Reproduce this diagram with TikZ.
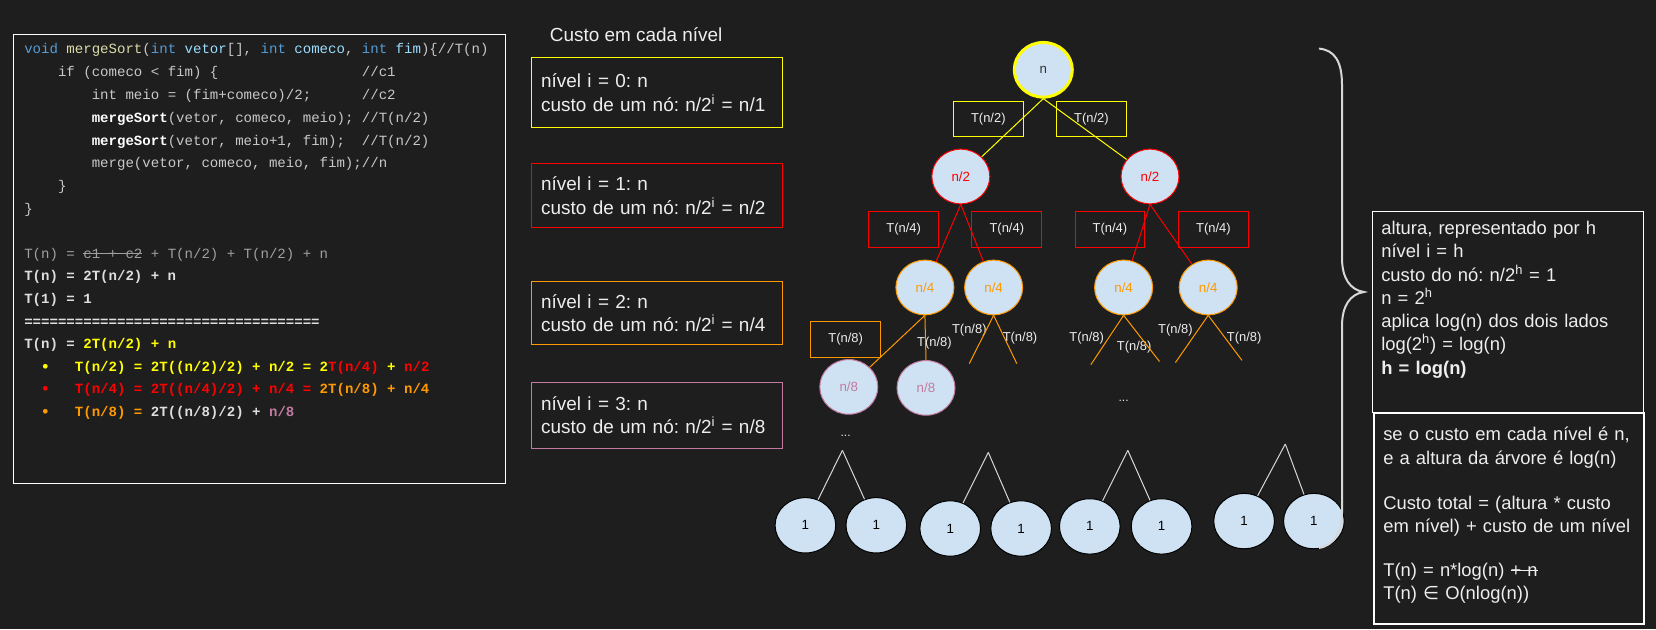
\documentclass[tikz,border=0pt]{standalone}
\usepackage{fontspec}
\setmainfont{Liberation Sans}
\setmonofont{Liberation Mono}
\newfontfamily\symfont{DejaVu Sans}
\usetikzlibrary{shapes.geometric}

\definecolor{bg}{RGB}{30,30,30}
\definecolor{nodefill}{RGB}{207,226,243}
\definecolor{lvlyellow}{RGB}{255,255,0}
\definecolor{lvlred}{RGB}{255,0,0}
\definecolor{lvlorange}{RGB}{255,153,0}
\definecolor{lvlpink}{RGB}{194,123,160}
\definecolor{txt}{RGB}{238,238,238}
\definecolor{codegray}{RGB}{200,200,200}
\definecolor{codedim}{RGB}{160,160,160}
\definecolor{codelight}{RGB}{222,222,222}
\definecolor{kwblue}{RGB}{86,156,214}
\definecolor{fnyellow}{RGB}{220,220,170}
\definecolor{parblue}{RGB}{156,220,254}
\definecolor{linegray}{RGB}{215,215,215}

\newcommand{\codesp}[1]{\hspace*{#1\fontcharwd\font`0}}
\newlength{\strikelen}
\newcommand{\strike}[1]{\settowidth{\strikelen}{#1}\rlap{\rule[0.28em]{\strikelen}{0.08em}}#1}
\frenchspacing

\begin{document}
\begin{tikzpicture}[x=0.75pt,y=-0.75pt,
  codeline/.style={anchor=west, inner sep=0pt, text=codegray,
    font=\ttfamily\fontsize{10.55}{12}\selectfont, text height=7.5pt, text depth=2.5pt},
  boldline/.style={codeline, text=codelight,
    font=\ttfamily\bfseries\fontsize{10.55}{12}\selectfont},
  dot/.style={inner sep=0pt, text=#1, font=\fontsize{13}{14}\selectfont},
  lvlbox/.style={draw=#1, line width=0.75pt, minimum width=187.9pt, minimum height=47.6pt,
    text width=173.7pt, inner xsep=7.1pt, align=left, text=txt,
    font=\fontsize{14.2}{17.45}\selectfont},
  treenode/.style={ellipse, draw=#1, fill=nodefill, text=#1, line width=0.75pt,
    minimum width=43.5pt, minimum height=41pt, inner sep=0pt, font=\fontsize{10}{12}\selectfont},
  leaf/.style={treenode=black, minimum width=45.5pt, minimum height=41.5pt},
  tbox/.style={draw=#1, line width=0.75pt, minimum width=52.3pt, minimum height=26.6pt,
    inner sep=0pt, text=txt, font=\fontsize{9.7}{11}\selectfont},
  tlabel/.style={inner sep=0pt, text=txt, font=\fontsize{9.7}{11}\selectfont},
  tedge/.style={draw=#1, line width=0.75pt},
  sidetext/.style={anchor=north west, inner sep=0pt, text width=196pt, align=left, text=txt,
    font=\fontsize{13.8}{17.45}\selectfont}
]

\useasboundingbox (0,0) rectangle (1656,629);
\fill[bg] (0,0) rectangle (1656,629);

% codigo
\node[draw=white, line width=0.75pt, minimum width=368.6pt, minimum height=336.1pt, inner sep=0pt]
  (codebox) at (259.5,259) {};

\node[codeline] (c1) at (24,50.5) {\textcolor{kwblue}{void} \textcolor{fnyellow}{mergeSort}(\textcolor{kwblue}{int} \textcolor{parblue}{vetor}[], \textcolor{kwblue}{int} \textcolor{parblue}{comeco}, \textcolor{kwblue}{int} \textcolor{parblue}{fim})\{//T(n)};
\node[codeline] (c2) at (24,73.3) {\codesp{4}if (comeco < fim) \{\codesp{17}//c1};
\node[codeline] (c3) at (24,96.1) {\codesp{8}int meio = (fim+comeco)/2;\codesp{6}//c2};
\node[codeline] (c4) at (24,118.9) {\codesp{8}{\bfseries\color{white}mergeSort}(vetor, comeco, meio); //T(n/2)};
\node[codeline] (c5) at (24,141.7) {\codesp{8}{\bfseries\color{white}mergeSort}(vetor, meio+1, fim);\codesp{2}//T(n/2)};
\node[codeline] (c6) at (24,164.5) {\codesp{8}merge(vetor, comeco, meio, fim);//n};
\node[codeline] (c7) at (24,187.3) {\codesp{4}\}};
\node[codeline] (c8) at (24,210.1) {\}};

\node[codeline, text=codedim] (d1) at (24,254.7) {T(n) = \strike{c1 + c2} + T(n/2) + T(n/2) + n};
\node[boldline] (d2) at (24,277.4) {T(n) = 2T(n/2) + n};
\node[boldline] (d3) at (24,300.0) {T(1) = 1};
\node[boldline] (d4) at (24,322.7) {===================================};
\node[boldline] (d5) at (24,345.3) {T(n) = \textcolor{lvlyellow}{2T(n/2) + n}};
\node[boldline, text=lvlyellow] (d6) at (24,368.0) {\codesp{6}T(n/2) = 2T((n/2)/2) + n/2 = 2\textcolor{lvlred}{T(n/4)} + \textcolor{lvlred}{n/2}};
\node[boldline, text=lvlred] (d7) at (24,390.6) {\codesp{6}T(n/4) = 2T((n/4)/2) + n/4 = \textcolor{lvlorange}{2T(n/8) + n/4}};
\node[boldline, text=lvlorange] (d8) at (24,413.3) {\codesp{6}T(n/8) = \textcolor{codelight}{2T((n/8)/2) +} \textcolor{lvlpink}{n/8}};
\node[dot=lvlyellow] (b1) at (45.5,368.0) {\textbullet};
\node[dot=lvlred] (b2) at (45.5,390.6) {\textbullet};
\node[dot=lvlorange] (b3) at (45.5,413.3) {\textbullet};

% custo por nivel
\node[anchor=west, inner sep=0pt, text=txt, font=\fontsize{14.2}{17}\selectfont]
  (titulo) at (549.6,34.9) {Custo em cada nível};
\node[lvlbox=lvlyellow, minimum height=53.1pt] (lvl0) at (657,92.5) {nível i = 0: n\\custo de um nó: n/2\textsuperscript{i} = n/1};
\node[lvlbox=lvlred] (lvl1) at (657,195.5) {nível i = 1: n\\custo de um nó: n/2\textsuperscript{i} = n/2};
\node[lvlbox=lvlorange] (lvl2) at (657,312.9) {nível i = 2: n\\custo de um nó: n/2\textsuperscript{i} = n/4};
\node[lvlbox=lvlpink, minimum height=49.2pt] (lvl3) at (657,415.4) {nível i = 3: n\\custo de um nó: n/2\textsuperscript{i} = n/8};

% arvore
\node[treenode=lvlyellow, line width=2.25pt, text=black!80] (root) at (1043.3,69.8) {n};
\node[tbox=lvlyellow] (t2a) at (988.3,118.9) {T(n/2)};
\node[tbox=lvlyellow] (t2b) at (1091.4,118.9) {T(n/2)};
\node[treenode=lvlred] (l1a) at (960.8,176.5) {n/2};
\node[treenode=lvlred] (l1b) at (1150,176.5) {n/2};

\node[tbox=lvlred, minimum height=27pt] (t4a) at (903.7,229.4) {T(n/4)};
\node[tbox=lvlred, minimum height=27pt] (t4b) at (1006.8,229.4) {T(n/4)};
\node[tbox=lvlred, minimum height=27pt] (t4c) at (1109.9,229.4) {T(n/4)};
\node[tbox=lvlred, minimum height=27pt] (t4d) at (1213.4,229.4) {T(n/4)};
\node[treenode=lvlorange] (l2a) at (924.9,287.5) {n/4};
\node[treenode=lvlorange] (l2b) at (993.6,287.5) {n/4};
\node[treenode=lvlorange] (l2c) at (1123.6,287.5) {n/4};
\node[treenode=lvlorange] (l2d) at (1208.2,287.5) {n/4};

\node[tbox=lvlorange, minimum height=27pt] (t8a) at (845.6,339.3) {T(n/8)};
\node[tlabel] (t8b) at (934.4,343.5) {T(n/8)};
\node[tlabel] (t8c) at (969.3,329.8) {T(n/8)};
\node[tlabel] (t8d) at (1020,338.2) {T(n/8)};
\node[tlabel] (t8e) at (1086.6,338.2) {T(n/8)};
\node[tlabel] (t8f) at (1134.2,346.7) {T(n/8)};
\node[tlabel] (t8g) at (1175.4,329.8) {T(n/8)};
\node[tlabel] (t8h) at (1244.1,338.2) {T(n/8)};
\node[treenode=lvlpink] (l3a) at (848.8,386.9) {n/8};
\node[treenode=lvlpink] (l3b) at (926,387.9) {n/8};

\node[dot=txt, font=\fontsize{9}{10}\selectfont] (dots1) at (845.6,435.5) {...};
\node[dot=txt, font=\fontsize{9}{10}\selectfont] (dots2) at (1123.6,400.6) {...};

\coordinate (e1) at (969.3,363.6);
\coordinate (e2) at (1016.8,363.6);
\coordinate (e3) at (1090.8,364.7);
\coordinate (e4) at (1159.5,361.5);
\coordinate (e5) at (1175.4,362.6);
\coordinate (e6) at (1242,360.4);

\coordinate (p1) at (842.4,450.3);
\coordinate (p2) at (988.3,452.4);
\coordinate (p3) at (1127.8,450.3);
\coordinate (p4) at (1285.3,444);
\node[leaf, text=black] (f1) at (805.4,525.3) {1};
\node[leaf, text=black] (f2) at (876.3,525.3) {1};
\node[leaf, text=black] (f3) at (950.2,528.5) {1};
\node[leaf, text=black] (f4) at (1021.1,528.5) {1};
\node[leaf, text=black] (f5) at (1089.8,526.4) {1};
\node[leaf, text=black] (f6) at (1161.6,526.4) {1};
\node[leaf, text=black] (f7) at (1244.1,521.1) {1};
\node[leaf, text=black] (f8) at (1313.9,521.1) {1};

\draw[tedge=lvlyellow] (root.south) -- (l1a);
\draw[tedge=lvlyellow] (root.south) -- (l1b);
\draw[tedge=lvlred] (l1a.south) -- (l2a);
\draw[tedge=lvlred] (l1a.south) -- (l2b);
\draw[tedge=lvlred] (l1b.south) -- (l2c);
\draw[tedge=lvlred] (l1b.south) -- (l2d);
\draw[tedge=lvlorange] (l2a.south) -- (l3a);
\draw[tedge=lvlorange] (l2a.south) -- (l3b.north);
\draw[tedge=lvlorange] (l2b.south) -- (e1);
\draw[tedge=lvlorange] (l2b.south) -- (e2);
\draw[tedge=lvlorange] (l2c.south) -- (e3);
\draw[tedge=lvlorange] (l2c.south) -- (e4);
\draw[tedge=lvlorange] (l2d.south) -- (e5);
\draw[tedge=lvlorange] (l2d.south) -- (e6);
\draw[tedge=linegray] (p1) -- (f1);
\draw[tedge=linegray] (p1) -- (f2);
\draw[tedge=linegray] (p2) -- (f3);
\draw[tedge=linegray] (p2) -- (f4);
\draw[tedge=linegray] (p3) -- (f5);
\draw[tedge=linegray] (p3) -- (f6);
\draw[tedge=linegray] (p4) -- (f7);
\draw[tedge=linegray] (p4) -- (f8);

% chave e conclusao
\draw[linegray, line width=1.5pt] (1319,48.6) .. controls (1335,50) and (1342,62) .. (1342,85)
  -- (1342,258) .. controls (1342,278) and (1350,290) .. (1364,292)
  .. controls (1350,294) and (1342,306) .. (1342,326)
  -- (1342,512) .. controls (1342,532) and (1335,545) .. (1319,548);

\node[draw=white, line width=0.75pt, minimum width=203.7pt, minimum height=150.6pt, inner sep=0pt]
  (altbox) at (1507.8,311.8) {};
\node[sidetext] (alttext) at (1381,221) {altura, representado por h\\nível i = h\\custo do nó: n/2\textsuperscript{h} = 1\\n = 2\textsuperscript{h}\\aplica log(n) dos dois lados\\log(2\textsuperscript{h}) = log(n)\\\textbf{h = log(n)}};

\node[draw=white, line width=1.5pt, minimum width=201.8pt, minimum height=157.7pt, inner sep=0pt]
  (totalbox) at (1509,518.5) {};
\node[sidetext] (totaltext) at (1383,427) {se o custo em cada nível é n,\\e a altura da árvore é log(n)\\[16.6pt]Custo total = (altura * custo\\em nível) + custo de um nível\\[15.1pt]T(n) = n*log(n) \strike{+ n}\\T(n) {\symfont ∈} O(nlog(n))};

\end{tikzpicture}
\end{document}
